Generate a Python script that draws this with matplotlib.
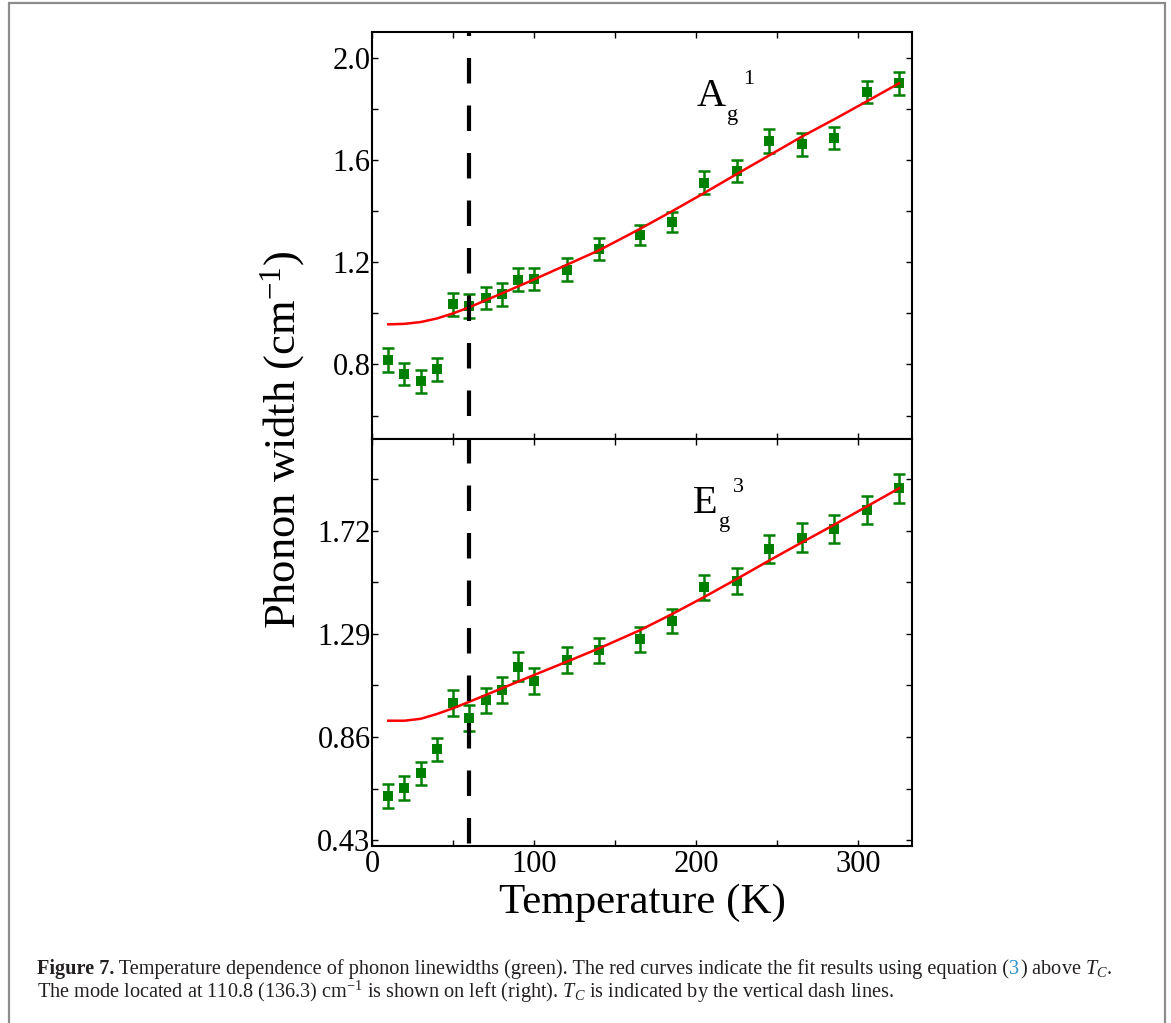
import matplotlib
matplotlib.use("Agg")
import matplotlib.pyplot as plt
import matplotlib.transforms as mtransforms
from matplotlib.patches import Rectangle

# data
temps = [10, 20, 30, 40, 50, 60, 70, 80, 90, 100, 120, 140, 165, 185, 205, 225, 245, 265, 285, 305, 325]
ag_width = [0.818, 0.763, 0.734, 0.781, 1.035, 1.029, 1.061, 1.074, 1.132, 1.134, 1.171,
            1.252, 1.308, 1.357, 1.512, 1.557, 1.676, 1.662, 1.687, 1.867, 1.901]
ag_err = [0.046, 0.044, 0.044, 0.044, 0.044, 0.046, 0.044, 0.044, 0.046, 0.044, 0.044,
          0.044, 0.040, 0.040, 0.044, 0.044, 0.046, 0.044, 0.044, 0.044, 0.044]
eg_width = [0.615, 0.648, 0.708, 0.809, 1.001, 0.938, 1.014, 1.056, 1.153, 1.094, 1.181,
            1.223, 1.268, 1.346, 1.485, 1.511, 1.645, 1.692, 1.727, 1.808, 1.898]
eg_err = [0.050, 0.050, 0.048, 0.048, 0.055, 0.055, 0.052, 0.055, 0.060, 0.056, 0.054,
          0.052, 0.052, 0.050, 0.052, 0.056, 0.058, 0.060, 0.058, 0.058, 0.060]

fit_temps = [10, 20, 30, 40, 50, 60, 80, 100, 120, 140, 165, 185, 205, 225, 245, 265, 285, 305, 325]
ag_fit = [0.957, 0.959, 0.966, 0.980, 1.000, 1.024, 1.078, 1.133, 1.190, 1.247, 1.330,
          1.400, 1.472, 1.546, 1.619, 1.692, 1.760, 1.830, 1.901]
eg_fit = [0.928, 0.928, 0.936, 0.956, 0.980, 1.007, 1.063, 1.119, 1.174, 1.230, 1.305,
          1.373, 1.445, 1.520, 1.597, 1.672, 1.746, 1.822, 1.898]

T_c = 60
top_ticks = [0.8, 1.2, 1.6, 2.0]
top_labels = ['0.8', '1.2', '1.6', '2.0']
top_minor = [0.6, 1.0, 1.4, 1.8]
bot_ticks = [0.43, 0.86, 1.29, 1.72]
bot_labels = ['0.43', '0.86', '1.29', '1.72']
bot_minor = [0.645, 1.075, 1.505, 1.935]

plt.rcParams['font.family'] = ['Liberation Serif', 'DejaVu Serif']
plt.rcParams['mathtext.fontset'] = 'custom'
plt.rcParams['mathtext.rm'] = 'Liberation Serif'
plt.rcParams['mathtext.it'] = 'Liberation Serif:italic'
plt.rcParams['mathtext.bf'] = 'Liberation Serif:bold'

W, H = 1171, 1023
fig = plt.figure(figsize=(W / 100, H / 100), dpi=100)


def fx(x):
    return x / W


def fy(y):
    return 1 - y / H


# outer frame of the figure box
fig.patches.append(Rectangle((fx(9), fy(1030)), fx(1165) - fx(9), fy(3) - fy(1030),
                             transform=fig.transFigure, fill=False,
                             edgecolor='#8c8c8c', lw=1.6))

left, right = 372, 912
ax1 = fig.add_axes([fx(left), fy(439), fx(right) - fx(left), fy(32) - fy(439)])
ax2 = fig.add_axes([fx(left), fy(846), fx(right) - fx(left), fy(439) - fy(846)], sharex=ax1)

for ax, w, e, fit in [(ax1, ag_width, ag_err, ag_fit), (ax2, eg_width, eg_err, eg_fit)]:
    ax.errorbar(temps, w, yerr=e, fmt='none', ecolor='#008000',
                capsize=4.5, elinewidth=1.8, capthick=1.8, zorder=3)
    ax.plot(temps, w, 's', color='#008000', ms=7.8, mew=0, zorder=3)
    ax.plot(fit_temps, fit, color='#ff0000', lw=1.8, zorder=4)
    for s in ax.spines.values():
        s.set_linewidth(1.5)
    ax.tick_params(which='both', direction='in', top=True, right=True,
                   length=4, width=1.0, labelsize=22)
    ax.tick_params(axis='y', pad=1)
    ax.tick_params(axis='x', pad=3)

ax1.set_xlim(0, 333)
ax1.set_xticks([0, 100, 200, 300])
ax1.set_xticks([50, 150, 250], minor=True)
ax1.tick_params(axis='x', labelbottom=False)

ax1.set_ylim(0.508, 2.102)
ax1.set_yticks(top_ticks)
ax1.set_yticklabels(top_labels)
ax1.set_yticks(top_minor, minor=True)

ax2.set_ylim(0.405, 2.104)
ax2.set_yticks(bot_ticks)
ax2.set_yticklabels(bot_labels)
ax2.set_yticks(bot_minor, minor=True)

# Tc dash line through both panels
trans = mtransforms.blended_transform_factory(ax2.transData, ax2.transAxes)
ax2.plot([T_c, T_c], [2.0, 0.0], transform=trans, color='black', lw=3,
         linestyle=(5.16, (6.12, 5.28)), clip_on=False, zorder=6)

# mode labels
fig.text(fx(697), fy(106), 'A', fontsize=29, va='baseline')
fig.text(fx(727), fy(120), 'g', fontsize=16, va='baseline')
fig.text(fx(743), fy(84), '1', fontsize=16, va='baseline')
fig.text(fx(693), fy(513), 'E', fontsize=29, va='baseline')
fig.text(fx(719), fy(527), 'g', fontsize=16, va='baseline')
fig.text(fx(733), fy(492), '3', fontsize=16, va='baseline')

fig.text(fx(283), fy(440), 'Phonon width (cm$^{-1}$)', fontsize=32,
         rotation=90, ha='center', va='center')
fig.text(fx(642), fy(913), 'Temperature (K)', fontsize=31, ha='center', va='baseline')

# caption
renderer = fig.canvas.get_renderer()
cap_color = '#231f20'
line1 = [('Figure 7.', dict(fontweight='bold', color=cap_color)),
         (' Temperature dependence of phonon linewidths (green). The red curves indicate '
          'the fit results using equation (', dict(color=cap_color)),
         ('3', dict(color='#2a93cc')),
         (') above $T_C$.', dict(color=cap_color))]


def draw_pieces(pieces, x0, y, size):
    x = x0
    made = []
    for txt, kw in pieces:
        t = fig.text(fx(x), fy(y), txt, fontsize=size, va='baseline', ha='left', **kw)
        bb = t.get_window_extent(renderer)
        x = bb.x1
        made.append(t)
    return made, x


size = 14
made, x_end = draw_pieces(line1, 37, 974, size)
for t in made:
    t.remove()
size = size * (1117 - 37) / (x_end - 37)
draw_pieces(line1, 37, 974, size)
fig.text(fx(37), fy(998), 'The mode located at 110.8 (136.3) cm$^{-1}$ is shown on left (right). '
         '$T_C$ is indicated by the vertical dash lines.', fontsize=size, color=cap_color,
         va='baseline', ha='left')

fig.savefig('out.png', dpi=100)
